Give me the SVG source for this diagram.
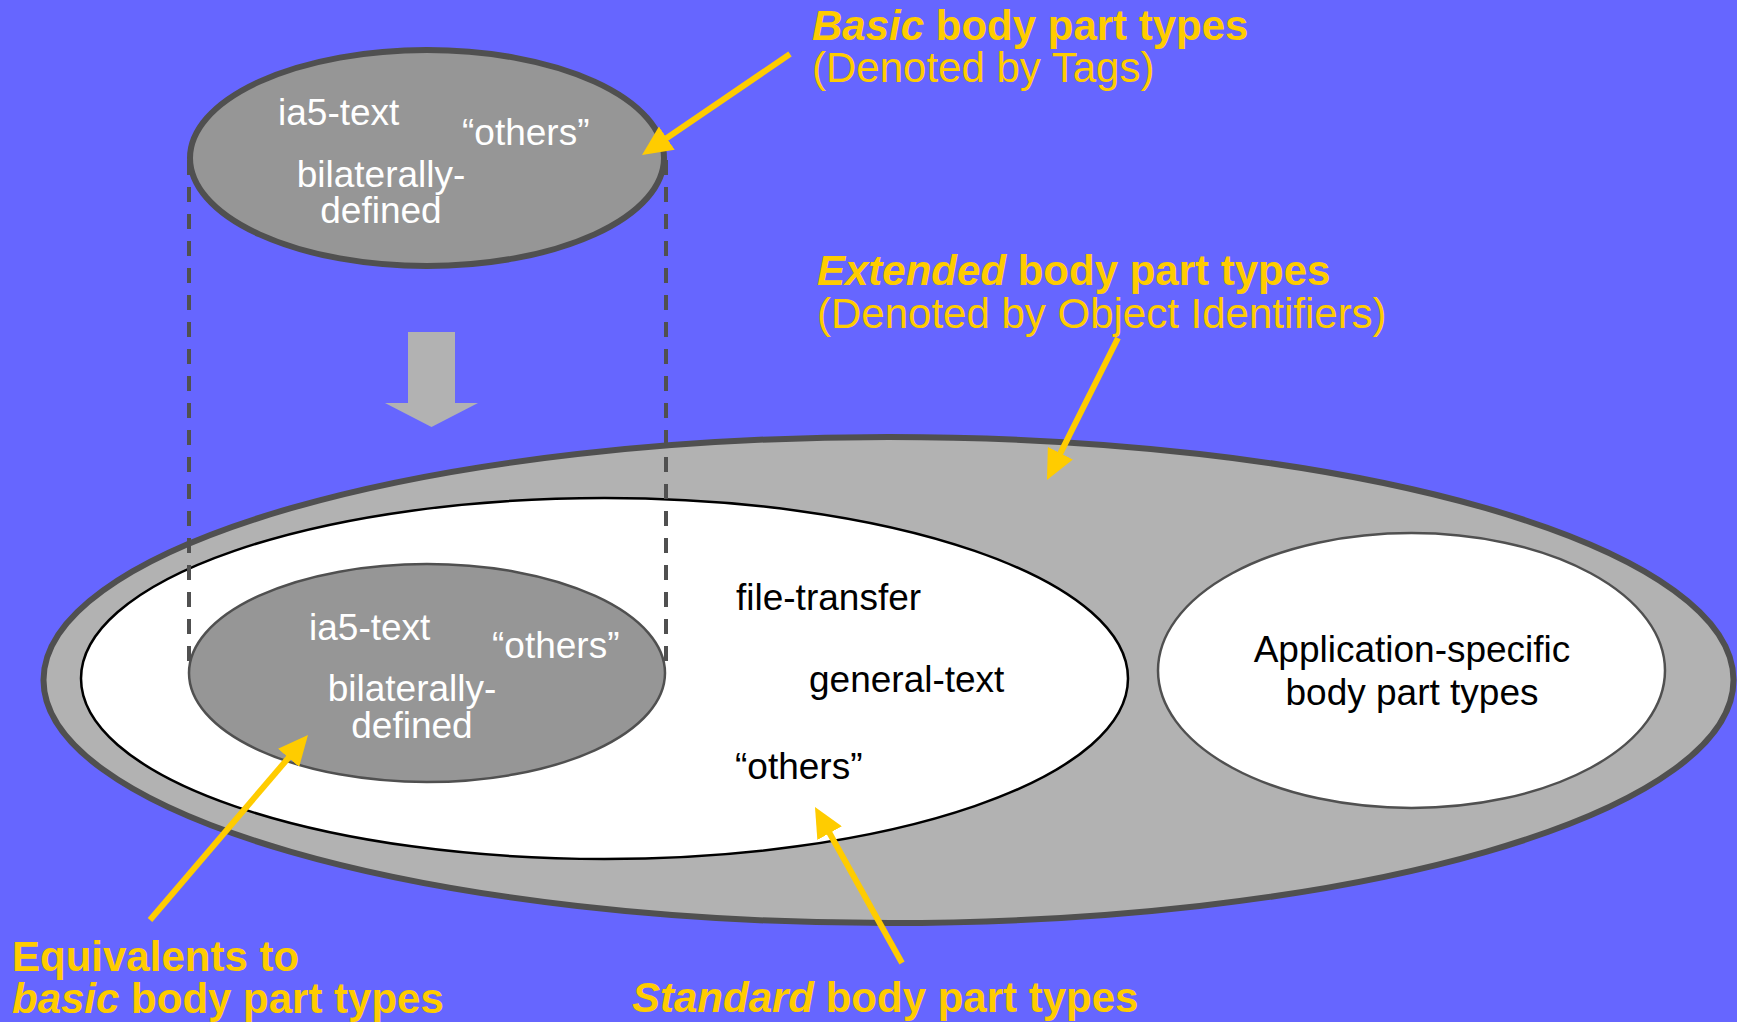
<svg xmlns="http://www.w3.org/2000/svg" width="1737" height="1022" viewBox="0 0 1737 1022">
<style>
text{font-family:"Liberation Sans",Arial,sans-serif}
.nw{fill:#ffffff;font-size:37px}
.nb{fill:#000000;font-size:37px}
.lb{fill:#ffcc00;font-size:42px;font-weight:bold}
.lr{fill:#ffcc00;font-size:42px}
.arr{stroke:#ffcc00;stroke-width:6;fill:none}
.dash{stroke:#505050;stroke-width:4;stroke-dasharray:15 12;fill:none}
</style>
<defs>
<marker id="ah" markerUnits="userSpaceOnUse" viewBox="0 0 30 28" markerWidth="30" markerHeight="28" refX="8" refY="14" orient="auto">
<path d="M0,0 L30,14 L0,28 z" fill="#ffcc00"/>
</marker>
</defs>
<rect x="0" y="0" width="1737" height="1022" fill="#6666ff"/>
<g id="extended">
<ellipse cx="888.5" cy="680" rx="845" ry="243" fill="#b2b2b2" stroke="#505050" stroke-width="6"/>
</g>
<g id="standard">
<ellipse cx="604.5" cy="678.5" rx="523.5" ry="180.5" fill="#ffffff" stroke="#000000" stroke-width="2.5"/>
<text class="nb" x="736" y="610">file-transfer</text>
<text class="nb" x="809" y="692">general-text</text>
<text class="nb" x="735" y="779">“others”</text>
</g>
<g id="appspecific">
<ellipse cx="1411.5" cy="670.5" rx="253.5" ry="137.5" fill="#ffffff" stroke="#505050" stroke-width="2.5"/>
<text class="nb" x="1412" y="662" text-anchor="middle">Application-specific</text>
<text class="nb" x="1412" y="705" text-anchor="middle">body part types</text>
</g>
<g id="equivalents">
<ellipse cx="427" cy="673" rx="238" ry="109" fill="#969696" stroke="#505050" stroke-width="2.5"/>
<text class="nw" x="309" y="640">ia5-text</text>
<text class="nw" x="492" y="658">“others”</text>
<text class="nw" x="412" y="701" text-anchor="middle">bilaterally-</text>
<text class="nw" x="412" y="738" text-anchor="middle">defined</text>
</g>
<g id="basic">
<ellipse cx="427" cy="158" rx="237" ry="108" fill="#969696" stroke="#505050" stroke-width="6"/>
<text class="nw" x="278" y="125">ia5-text</text>
<text class="nw" x="462" y="145">“others”</text>
<text class="nw" x="381" y="187" text-anchor="middle">bilaterally-</text>
<text class="nw" x="381" y="223" text-anchor="middle">defined</text>
</g>
<g id="downarrow">
<polygon points="408,332 455,332 455,403 478,403 431.5,427 385,403 408,403" fill="#b2b2b2"/>
</g>
<g id="connectors">
<line class="dash" x1="189" y1="160" x2="189" y2="673"/>
<line class="dash" x1="666" y1="160" x2="666" y2="673"/>
<line class="arr" x1="790" y1="54" x2="660.2" y2="142.6" marker-end="url(#ah)"/>
<line class="arr" x1="1118" y1="338" x2="1056.8" y2="460.3" marker-end="url(#ah)"/>
<line class="arr" x1="150" y1="920" x2="293.7" y2="751.7" marker-end="url(#ah)"/>
<line class="arr" x1="902" y1="963" x2="825.7" y2="826.2" marker-end="url(#ah)"/>
</g>
<g id="labels">
<text class="lb" x="812" y="40"><tspan font-style="italic">Basic</tspan> body part types</text>
<text class="lr" x="812" y="82">(Denoted by Tags)</text>
<text class="lb" x="817" y="285"><tspan font-style="italic">Extended</tspan> body part types</text>
<text class="lr" x="817" y="328">(Denoted by Object Identifiers)</text>
<text class="lb" x="12" y="971">Equivalents to</text>
<text class="lb" x="12" y="1013"><tspan font-style="italic">basic</tspan> body part types</text>
<text class="lb" x="632" y="1012"><tspan font-style="italic">Standard</tspan> body part types</text>
</g>
</svg>
